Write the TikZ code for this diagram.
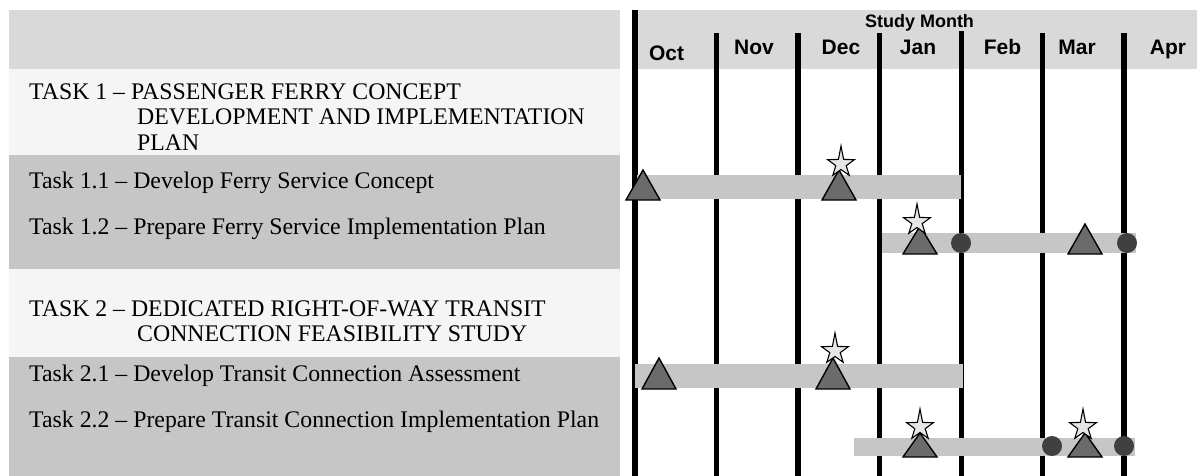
\documentclass[tikz,border=0pt]{standalone}
\usepackage{fontspec}
\setmainfont{Liberation Serif}
\setsansfont{Liberation Sans}
\definecolor{hdrg}{HTML}{D9D9D9}
\definecolor{lightg}{HTML}{F5F5F5}
\definecolor{bandg}{HTML}{C6C6C6}
\definecolor{barg}{HTML}{C6C6C6}
\definecolor{trig}{HTML}{6B6B6B}
\definecolor{circg}{HTML}{404040}
\definecolor{starg}{HTML}{E6E6E6}
\newcommand{\mtri}[3]{\draw[tri] ({#1-17},#3) -- (#1,#2) -- ({#1+17},#3) -- cycle;}
\newcommand{\mstar}[2]{\draw[starsty,shift={(#1,#2)}] (0,-18) -- (2.6,-4.6) -- (13.3,-4.3) -- (5.2,1.7) -- (8.2,11.3) -- (0,5.5) -- (-8.2,11.3) -- (-5.2,1.7) -- (-13.3,-4.3) -- (-2.6,-4.6) -- cycle;}
\newcommand{\mdot}[2]{\fill[circg] (#1,#2) circle[radius=10];}
\begin{document}
\begin{tikzpicture}[x=1pt,y=-1pt,
  hdr/.style={font=\fontsize{23.8}{25}\selectfont, anchor=base west, inner sep=0},
  sub/.style={font=\fontsize{23.8}{25}\selectfont, anchor=base west, inner sep=0},
  mon/.style={font=\sffamily\bfseries\fontsize{21}{23}\selectfont, anchor=base, inner sep=0},
  bar/.style={fill=barg, draw=none},
  tri/.style={fill=trig, draw=black, line width=1.4pt, line join=miter},
  starsty/.style={fill=starg, draw=black, line width=1.1pt, line join=miter},
  vline/.style={line width=5.5pt, black},
]
\useasboundingbox (0,0) rectangle (1197,476);
% left panel bands
\fill[hdrg] (9,10) rectangle (620,69);
\fill[lightg] (9,69) rectangle (620,155);
\fill[bandg] (9,155) rectangle (620,269);
\fill[lightg] (9,269) rectangle (620,357);
\fill[bandg] (9,357) rectangle (620,476);
% right header
\fill[hdrg] (638,10) rectangle (1197,69);
% vertical month lines
\draw[vline] (635,10) -- (635,476);
\draw[vline] (716.5,33) -- (716.5,476);
\draw[vline] (798,33) -- (798,476);
\draw[vline] (879.5,33) -- (879.5,476);
\draw[vline] (961.5,31) -- (961.5,476);
\draw[vline] (1042.5,33) -- (1042.5,476);
\draw[vline] (1124,33) -- (1124,476);
% header texts
\node[font=\sffamily\bfseries\fontsize{18}{20}\selectfont, anchor=base, inner sep=0] (sm) at (919.5,28) {Study Month};
\node[mon] (moct) at (666.5,61) {Oct};
\node[mon] (mnov) at (754,55) {Nov};
\node[mon] (mdec) at (841,55) {Dec};
\node[mon] (mjan) at (918,55) {Jan};
\node[mon] (mfeb) at (1002.5,55) {Feb};
\node[mon] (mmar) at (1077,55) {Mar};
\node[mon] (mapr) at (1168,55) {Apr};
% left texts
\node[hdr] (t1a) at (29,100) {TASK 1 -- PASSENGER FERRY CONCEPT};
\node[hdr] (t1b) at (137,125) {DEVELOPMENT AND IMPLEMENTATION};
\node[hdr] (t1c) at (137,150) {PLAN};
\node[sub] (t11) at (29,188) {Task 1.1 -- Develop Ferry Service Concept};
\node[sub] (t12) at (29,234) {Task 1.2 -- Prepare Ferry Service Implementation Plan};
\node[hdr] (t2a) at (29,316) {TASK 2 -- DEDICATED RIGHT-OF-WAY TRANSIT};
\node[hdr] (t2b) at (137,341) {CONNECTION FEASIBILITY STUDY};
\node[sub] (t21) at (29,381) {Task 2.1 -- Develop Transit Connection Assessment};
\node[sub] (t22) at (29,427) {Task 2.2 -- Prepare Transit Connection Implementation Plan};
% Task 1.1
\fill[bar] (637,175) rectangle (961,199);
\mtri{643}{170}{200}
\mtri{839}{170}{200}
\mstar{841}{164}
% Task 1.2
\fill[bar] (882,233) rectangle (1136,253);
\mtri{920}{226}{254}
\mstar{917}{222}
\mdot{961}{243}
\mtri{1085}{224}{254}
\mdot{1127}{243}
% Task 2.1
\fill[bar] (635,364) rectangle (963,388);
\mtri{659}{358}{389}
\mtri{833}{358}{389}
\mstar{835}{351}
% Task 2.2
\fill[bar] (854,438) rectangle (1135,456);
\mtri{920}{433}{457}
\mstar{920}{427}
\mdot{1052}{446}
\mtri{1085}{433}{457}
\mstar{1083}{427}
\mdot{1124}{446}
\end{tikzpicture}
\end{document}
